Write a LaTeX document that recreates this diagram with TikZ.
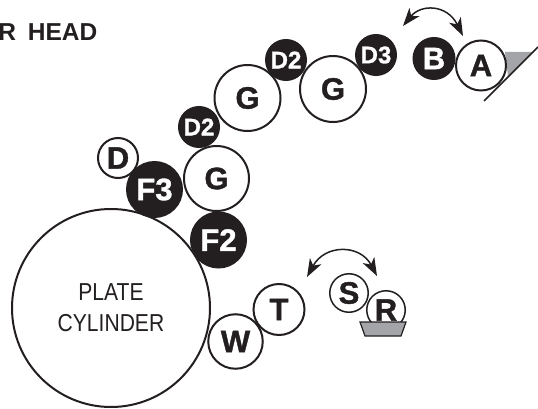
\documentclass[tikz,border=0pt]{standalone}
\usepackage{fontspec}
\setmainfont{Liberation Sans}
\newfontfamily\narrowf[FakeStretch=0.86]{Liberation Sans}
\newfontfamily\heavyf[UprightFont={* Bold},UprightFeatures={FakeBold=1.2}]{Liberation Sans}
\usetikzlibrary{arrows.meta}
\definecolor{ink}{HTML}{231F20}
\definecolor{tray}{HTML}{A3A5A8}
\tikzset{
  big/.style={font=\heavyf\fontsize{31}{31}\selectfont},
  small/.style={font=\heavyf\fontsize{24}{24}\selectfont},
  roll/.style={circle,draw=ink,fill=white,line width=2pt,inner sep=0pt,text=ink,big},
  thin roll/.style={roll,line width=1.5pt},
  dark roll/.style={circle,draw=ink,fill=ink,line width=2pt,inner sep=0pt,text=white,big},
  swing/.style={draw=ink,line width=1.5pt,{Stealth[length=18pt,width=13pt,inset=5pt]}-{Stealth[length=18pt,width=13pt,inset=5pt]}},
}
\begin{document}
\begin{tikzpicture}[x=1pt,y=-1pt]
\useasboundingbox (0,0) rectangle (538,409);
% ink tray and blade
\fill[tray] (505,52) -- (532,52) -- (508,76) -- cycle;
\coordinate (bladeA) at (484,101);
\coordinate (bladeB) at (538,47);
\draw[ink,line width=1.6pt] (bladeA) -- (bladeB);
% rollers
\node[roll,minimum size=198pt,font=\narrowf\fontsize{24.5}{31}\selectfont,align=center] (plate) at (111,308) {PLATE\\CYLINDER};
\node[roll,minimum size=54.5pt] (W) at (235.5,341.5) {W};
\node[roll,minimum size=51pt] (T) at (279,309.5) {T};
\node[roll,minimum size=40pt] (D) at (118,158) {D};
\node[dark roll,minimum size=55pt] (F3) at (154.5,189.5) {F3};
\node[dark roll,minimum size=55pt] (F2) at (218.5,240) {F2};
\node[dark roll,minimum size=40pt,small] (D2a) at (199,127) {D2};
\node[dark roll,minimum size=40pt,small] (D2b) at (286,60) {D2};
\node[dark roll,minimum size=40pt,small] (D3) at (376,55) {D3};
\node[roll,minimum size=65pt] (G1) at (216.5,178.5) {G};
\node[roll,minimum size=66pt] (G2) at (247.5,98) {G};
\node[roll,minimum size=66pt] (G3) at (333,89) {G};
\node[dark roll,minimum size=41pt] (B) at (434,58.5) {B};
\node[roll,minimum size=50pt] (A) at (481,65.5) {A};
\node[thin roll,minimum size=38.5pt] (S) at (349,293) {S};
\node[thin roll,minimum size=38.5pt] (R) at (386,310) {R};
\fill[tray,draw=ink,line width=1.2pt] (360,322) -- (406,322) -- (401,336) -- (365,336) -- cycle;
% swing arrows
\coordinate (a1) at (403,26);
\coordinate (a2) at (463,36);
\coordinate (b1) at (307,277);
\coordinate (b2) at (377,276);
\draw[swing] (a1) .. controls (421,4) and (447,4) .. (a2);
\draw[swing] (b1) .. controls (325,244) and (360,244) .. (b2);
% heading
\node[anchor=base east,text=ink,font=\bfseries\fontsize{24.5}{24.5}\selectfont,inner sep=0pt] (head) at (97.5,41) {R\hspace{5pt} HEAD};
\end{tikzpicture}
\end{document}
